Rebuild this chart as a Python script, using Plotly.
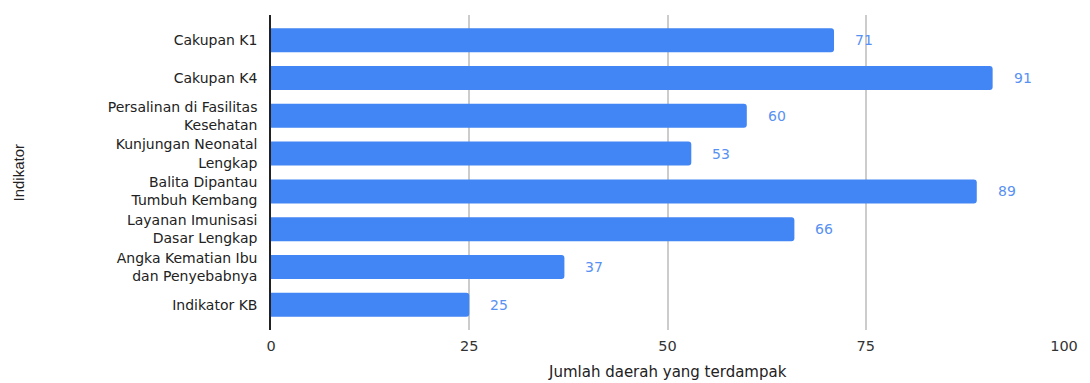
import plotly.graph_objects as go

categories = [
    "Cakupan K1",
    "Cakupan K4",
    "Persalinan di Fasilitas<br>Kesehatan",
    "Kunjungan Neonatal<br>Lengkap",
    "Balita Dipantau<br>Tumbuh Kembang",
    "Layanan Imunisasi<br>Dasar Lengkap",
    "Angka Kematian Ibu<br>dan Penyebabnya",
    "Indikator KB",
]
values = [71, 91, 60, 53, 89, 66, 37, 25]
x_ticks = [0, 25, 50, 75, 100]

WIDE = "DejaVu Sans, Verdana, sans-serif"

fig = go.Figure()
fig.add_trace(go.Bar(
    y=categories, x=values, orientation="h",
    marker=dict(color="#4285F4", line=dict(width=0)),
    width=0.635, hoverinfo="skip",
))

for c, v in zip(categories, values):
    fig.add_annotation(x=v, y=c, text=str(v), showarrow=False,
                       xanchor="left", xshift=19,
                       font=dict(family=WIDE, size=14, color="#5891F2"))

# axis titles
fig.add_annotation(text="Jumlah daerah yang terdampak", xref="paper", yref="paper",
                   x=0.5, y=0, xanchor="center", yanchor="middle", yshift=-42,
                   showarrow=False, font=dict(family=WIDE, size=15, color="#222222"))
fig.add_annotation(text="Indikator", xref="paper", yref="paper",
                   x=0, y=0.5, xanchor="center", yanchor="middle", xshift=-253,
                   textangle=-90, showarrow=False,
                   font=dict(family="Liberation Sans, Arial", size=15, color="#222222"))

fig.update_layout(
    width=1090, height=383,
    margin=dict(l=271, r=19, t=15, b=53),
    paper_bgcolor="white", plot_bgcolor="white",
    showlegend=False,
    barcornerradius=3,
    font=dict(family=WIDE, size=14, color="#222222"),
    xaxis=dict(
        range=[0, 100], tickvals=x_ticks, ticktext=[str(t) for t in x_ticks],
        showgrid=True, gridcolor="#CCCCCC", gridwidth=1.5,
        zeroline=False, showline=False,
        ticks="", ticklabelstandoff=5,
        tickfont=dict(family=WIDE, size=14.5, color="#333333"),
    ),
    yaxis=dict(
        autorange=False, range=[7.67, -0.67],
        showgrid=False, zeroline=False,
        showline=True, linecolor="#222222", linewidth=1.5,
        ticks="", ticklabelstandoff=9,
        tickfont=dict(family=WIDE, size=14, color="#222222"),
    ),
)

fig.write_html("out.html")
